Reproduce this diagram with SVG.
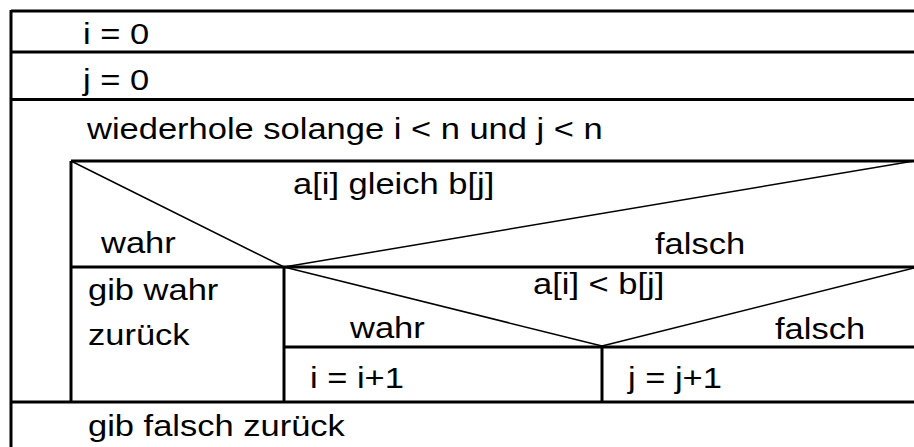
<svg xmlns="http://www.w3.org/2000/svg" width="914" height="447" viewBox="0 0 914 447">
<style>
.t{font-family:"Liberation Sans",Arial,sans-serif;font-size:30px;fill:#000}
.b{stroke:#000;stroke-width:3;fill:none}
.d{stroke:#000;stroke-width:1.5;fill:none}
</style>
<rect width="914" height="447" fill="#fff"/>
<g id="stmt-i0">
<line class="b" x1="11" y1="11" x2="914" y2="11"/>
<text class="t" transform="translate(83,44) scale(1.15,1)">i = 0</text>
</g>
<g id="stmt-j0">
<line class="b" x1="11" y1="52" x2="914" y2="52"/>
<text class="t" transform="translate(83,90) scale(1.15,1)">j = 0</text>
</g>
<g id="loop">
<line class="b" x1="11" y1="99.5" x2="914" y2="99.5"/>
<line class="b" x1="11" y1="10" x2="11" y2="447"/>
<text class="t" transform="translate(87,139) scale(1.15,1)">wiederhole solange i &lt; n und j &lt; n</text>
</g>
<g id="if-gleich">
<line class="b" x1="71" y1="161" x2="914" y2="161"/>
<line class="b" x1="71" y1="161" x2="71" y2="402"/>
<line class="b" x1="71" y1="267" x2="914" y2="267"/>
<line class="d" x1="71" y1="161" x2="284" y2="267"/>
<line class="d" x1="284" y1="267" x2="914" y2="161"/>
<text class="t" transform="translate(293,194) scale(1.15,1)">a[i] gleich b[j]</text>
<text class="t" transform="translate(101,253) scale(1.15,1)">wahr</text>
<text class="t" transform="translate(655,254) scale(1.15,1)">falsch</text>
</g>
<g id="gib-wahr">
<text class="t" transform="translate(88,300) scale(1.15,1)">gib wahr</text>
<text class="t" transform="translate(88,345) scale(1.15,1)">zurück</text>
</g>
<g id="if-kleiner">
<line class="b" x1="284" y1="267" x2="284" y2="402"/>
<line class="b" x1="284" y1="347" x2="914" y2="347"/>
<line class="d" x1="284" y1="267" x2="602" y2="346"/>
<line class="d" x1="602" y1="346" x2="914" y2="268"/>
<text class="t" transform="translate(533,294) scale(1.15,1)">a[i] &lt; b[j]</text>
<text class="t" transform="translate(350,338) scale(1.15,1)">wahr</text>
<text class="t" transform="translate(775,339) scale(1.15,1)">falsch</text>
</g>
<g id="inc-i">
<text class="t" transform="translate(310,388) scale(1.15,1)">i = i+1</text>
</g>
<g id="inc-j">
<line class="b" x1="602" y1="346" x2="602" y2="402"/>
<text class="t" transform="translate(628,388) scale(1.15,1)">j = j+1</text>
</g>
<g id="gib-falsch">
<line class="b" x1="11" y1="402" x2="914" y2="402"/>
<text class="t" transform="translate(88,436) scale(1.15,1)">gib falsch zurück</text>
</g>
</svg>
